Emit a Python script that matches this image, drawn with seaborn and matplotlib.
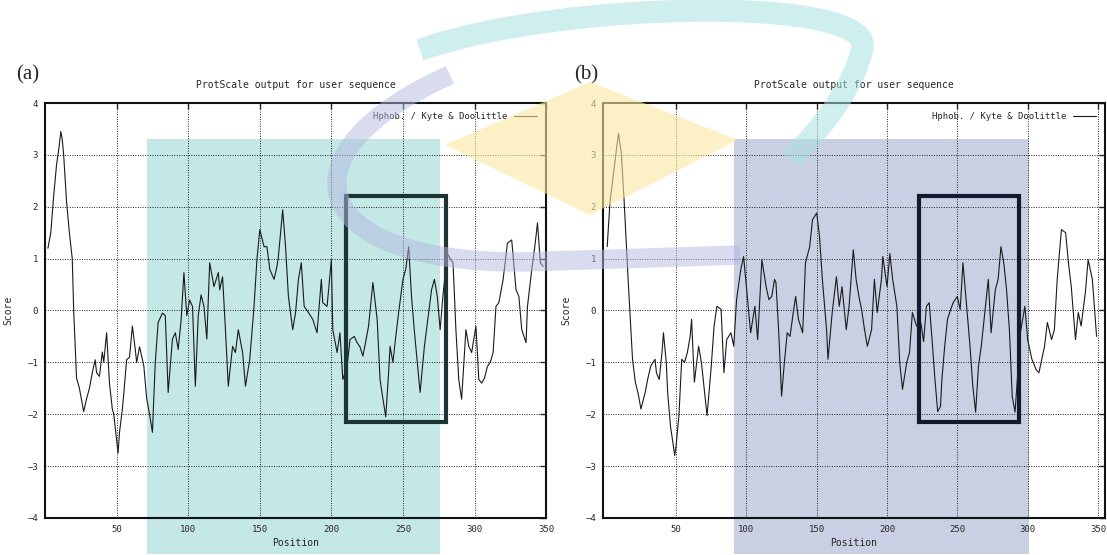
import matplotlib
matplotlib.use('Agg')
import matplotlib.pyplot as plt
import matplotlib.patches as mpatches
from matplotlib.path import Path
import seaborn as sns
import pandas as pd

# ── data ──────────────────────────────────────────────────────────────────────
pos_a = [2, 4, 6, 8, 10, 11, 12, 13, 15, 17, 19, 20, 22, 24, 27, 29, 31, 33, 35, 36,
         38, 40, 41, 43, 45, 47, 48, 50, 51, 52, 54, 55, 57, 59, 61, 63, 64, 66, 69, 71,
         73, 75, 77, 79, 82, 84, 86, 89, 91, 93, 95, 97, 99, 101, 103, 105, 107, 109, 111, 113,
         115, 118, 121, 122, 124, 126, 128, 131, 133, 135, 138, 140, 143, 146, 148, 150, 153, 155, 157, 160,
         162, 163, 166, 168, 170, 173, 175, 177, 179, 181, 184, 187, 190, 193, 194, 197, 200, 201, 204, 206,
         208, 211, 213, 216, 218, 220, 222, 224, 226, 229, 232, 234, 236, 238, 240, 241, 243, 245, 247, 250,
         252, 254, 256, 258, 260, 262, 265, 268, 270, 272, 274, 276, 278, 281, 283, 285, 287, 289, 291, 294,
         296, 298, 301, 303, 305, 307, 309, 311, 313, 315, 317, 320, 323, 326, 329, 331, 333, 336, 337, 340,
         342, 344, 346, 348]
score_a = [1.2, 1.5, 2.2, 2.8, 3.2, 3.45, 3.3, 3.0, 2.1, 1.5, 1.0, 0.0, -1.3, -1.5, -1.95, -1.7, -1.5, -1.2, -0.95, -1.2,
           -1.27, -0.8, -1.0, -0.43, -1.4, -1.9, -2.0, -2.5, -2.75, -2.35, -1.9, -1.6, -0.95, -0.9, -0.3, -0.75, -1.0, -0.7, -1.07, -1.7,
           -2.0, -2.35, -1.0, -0.23, -0.05, -0.1, -1.58, -0.55, -0.43, -0.75, -0.2, 0.73, -0.1, 0.2, 0.08, -1.46, -0.1, 0.3, 0.08, -0.55,
           0.92, 0.46, 0.73, 0.4, 0.65, -0.37, -1.46, -0.69, -0.81, -0.37, -0.81, -1.46, -0.94, 0.08, 0.98, 1.56, 1.23, 1.23, 0.79, 0.6,
           0.85, 1.04, 1.94, 1.23, 0.27, -0.37, -0.04, 0.6, 0.92, 0.08, -0.04, -0.17, -0.43, 0.6, 0.15, 0.08, 0.98, -0.37, -0.81, -0.43,
           -1.33, -1.08, -0.56, -0.5, -0.62, -0.7, -0.88, -0.6, -0.3, 0.54, -0.17, -1.33, -1.7, -2.05, -1.2, -0.69, -1.0, -0.5, -0.04, 0.6,
           0.8, 1.23, 0.27, -0.4, -1.0, -1.58, -0.69, -0.04, 0.4, 0.6, 0.27, -0.37, 0.3, 1.1, 1.0, 0.92, -0.37, -1.33, -1.71, -0.37,
           -0.69, -0.81, -0.3, -1.33, -1.4, -1.3, -1.08, -1.0, -0.81, 0.08, 0.15, 0.6, 1.3, 1.36, 0.4, 0.27, -0.37, -0.62, 0.08, 0.79,
           1.2, 1.69, 0.92, 0.85]

pos_b = [1, 3, 6, 8, 9, 11, 13, 16, 19, 21, 23, 25, 28, 30, 32, 35, 36, 38, 40, 41,
         43, 44, 46, 48, 49, 50, 52, 54, 56, 58, 60, 61, 63, 66, 68, 70, 72, 75, 77, 79,
         82, 84, 86, 89, 91, 93, 96, 98, 100, 103, 106, 108, 111, 114, 116, 118, 120, 121, 123, 125,
         127, 129, 131, 133, 135, 137, 140, 142, 145, 147, 150, 152, 154, 157, 158, 161, 164, 166, 168, 171,
         173, 176, 178, 180, 182, 184, 186, 189, 191, 193, 196, 197, 200, 202, 204, 207, 209, 211, 214, 216,
         218, 221, 224, 226, 228, 230, 232, 234, 236, 238, 239, 241, 243, 245, 247, 250, 252, 254, 256, 259,
         261, 263, 265, 267, 270, 272, 274, 277, 279, 281, 283, 285, 287, 289, 291, 293, 295, 298, 300, 303,
         306, 308, 310, 312, 314, 317, 319, 321, 324, 327, 329, 331, 334, 336, 338, 341, 343, 346, 349]
score_b = [1.23, 2.1, 2.77, 3.2, 3.42, 3.04, 2.13, 0.54, -0.94, -1.38, -1.6, -1.9, -1.58, -1.3, -1.07, -0.94, -1.2, -1.33, -0.8, -0.43,
           -1.0, -1.58, -2.23, -2.6, -2.8, -2.6, -2.03, -0.94, -1.0, -0.81, -0.5, -0.17, -1.38, -0.69, -1.0, -1.52, -2.03, -1.07, -0.3, 0.08,
           0.02, -1.2, -0.56, -0.43, -0.69, 0.21, 0.79, 1.04, 0.46, -0.43, 0.08, -0.56, 0.98, 0.46, 0.21, 0.27, 0.6, 0.54, -0.43, -1.65,
           -1.0, -0.43, -0.5, -0.1, 0.27, -0.17, -0.43, 0.92, 1.23, 1.75, 1.88, 1.42, 0.6, -0.37, -0.94, -0.04, 0.65, 0.08, 0.46, -0.37,
           0.08, 1.17, 0.6, 0.27, 0.0, -0.37, -0.69, -0.37, 0.6, -0.04, 0.6, 1.04, 0.46, 1.1, 0.6, 0.08, -1.0, -1.52, -1.0, -0.81,
           -0.04, -0.3, -0.23, -0.6, 0.08, 0.15, -0.56, -1.3, -1.95, -1.85, -1.33, -0.69, -0.17, 0.0, 0.15, 0.27, 0.02, 0.92, 0.27, -0.69,
           -1.46, -1.96, -1.08, -0.69, 0.08, 0.6, -0.43, 0.4, 0.6, 1.23, 0.92, 0.4, -0.37, -1.65, -1.96, -1.2, -0.4, 0.08, -0.56, -0.94,
           -1.14, -1.2, -0.94, -0.69, -0.23, -0.56, -0.37, 0.6, 1.56, 1.5, 0.92, 0.46, -0.56, -0.04, -0.3, 0.34, 0.98, 0.6, -0.5]

x_ticks = [50, 100, 150, 200, 250, 300, 350]
y_ticks = [-4, -3, -2, -1, 0, 1, 2, 3, 4]
panel_labels = ['(a)', '(b)']
title = 'ProtScale output for user sequence'
legend_label = 'Hphob. / Kyte & Doolittle'

# highlighted stretches (x from, x to) and boxed windows
shade_a, shade_b = (71, 276), (91, 301)
box_a, box_b = (210, 280), (223, 294)

# ── figure ────────────────────────────────────────────────────────────────────
sns.set_style('white')
plt.rcParams['font.family'] = ['DejaVu Sans Mono']

fig = plt.figure(figsize=(11.07, 5.55), dpi=100)
ax_a = fig.add_axes([0.0407, 0.0667, 0.4526, 0.7477])
ax_b = fig.add_axes([0.5447, 0.0667, 0.4535, 0.7477])

panels = [
    (ax_a, pos_a, score_a, shade_a, box_a, '#c3e8e6', '#1d3434', (0, 350)),
    (ax_b, pos_b, score_b, shade_b, box_b, '#c9d0e4', '#111a2e', (-2, 355)),
]

for i, (ax, px, py, shade, box, shade_col, box_col, xlim) in enumerate(panels):
    df = pd.DataFrame({'Position': px, 'Score': py})
    ax.add_patch(mpatches.Rectangle((shade[0], -4.7), shade[1] - shade[0], 8.0,
                                    facecolor=shade_col, edgecolor='none',
                                    zorder=0.5, clip_on=False))
    sns.lineplot(data=df, x='Position', y='Score', ax=ax, color='#1a1a1a',
                 lw=0.8, label=legend_label, zorder=3)
    ax.add_patch(mpatches.Rectangle((box[0], -2.15), box[1] - box[0], 4.35,
                                    facecolor='none', edgecolor=box_col,
                                    lw=3, zorder=4))
    ax.set_xlim(*xlim)
    ax.set_ylim(-4, 4)
    ax.set_xticks(x_ticks)
    ax.set_yticks(y_ticks)
    ax.grid(True, color='#222222', linestyle=(0, (1, 1.5)), lw=0.7, zorder=1)
    ax.tick_params(direction='in', length=4, width=1, labelsize=6.5,
                   top=True, right=True, pad=5)
    for sp in ax.spines.values():
        sp.set_color('#111111')
        sp.set_linewidth(1.5)
    ax.set_xlabel('Position', fontsize=7, labelpad=3)
    ax.set_ylabel('Score', fontsize=7, labelpad=10)
    ax.set_title(title, fontsize=7, pad=11)
    ax.legend(loc='upper right', frameon=False, fontsize=6.5, handlelength=2.5,
              markerfirst=False, borderaxespad=0.6)
    x0 = ax.get_position().x0
    fig.text(x0 - 0.026, 0.865, panel_labels[i], fontsize=15,
             family='Liberation Serif', va='center')

# ── faint logo watermark over the scan ────────────────────────────────────────
wm = fig.add_axes([0, 0, 1, 1], zorder=10)
wm.set_xlim(0, 1107)
wm.set_ylim(555, 0)
wm.axis('off')
wm.patch.set_alpha(0)

diamond = mpatches.Polygon([(445, 145), (590, 82), (738, 140), (590, 215)],
                           closed=True, facecolor='#fbe7a0', edgecolor='none', alpha=0.6)
wm.add_patch(diamond)

teal = Path([(420, 50), (560, 0), (880, -5), (862, 50), (850, 100), (790, 160)],
            [Path.MOVETO, Path.CURVE4, Path.CURVE4, Path.CURVE4, Path.CURVE3, Path.CURVE3])
wm.add_patch(mpatches.PathPatch(teal, facecolor='none', edgecolor='#a9e0e0',
                                lw=16, alpha=0.55, capstyle='butt'))

lav = Path([(450, 75), (280, 150), (300, 262), (520, 262), (740, 255)],
           [Path.MOVETO, Path.CURVE4, Path.CURVE4, Path.CURVE4, Path.LINETO])
wm.add_patch(mpatches.PathPatch(lav, facecolor='none', edgecolor='#b3badf',
                                lw=14, alpha=0.5, capstyle='butt'))

plt.savefig('out.png', dpi=100)
plt.close()
print('OK: out.png')
